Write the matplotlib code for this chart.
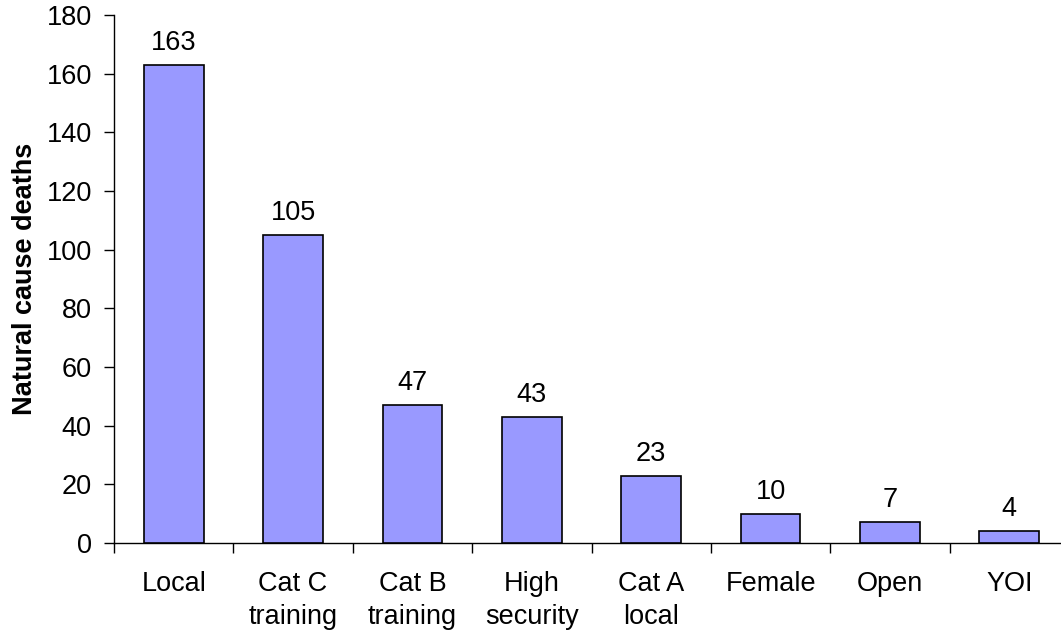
import matplotlib
matplotlib.use("Agg")
import matplotlib.pyplot as plt
import numpy as np

categories = ["Local", "Cat C\ntraining", "Cat B\ntraining", "High\nsecurity",
              "Cat A\nlocal", "Female", "Open", "YOI"]
deaths = [163, 105, 47, 43, 23, 10, 7, 4]
yticks = [0, 20, 40, 60, 80, 100, 120, 140, 160, 180]

plt.rcParams["font.family"] = ["Liberation Sans", "DejaVu Sans"]
FS = 19.5

fig = plt.figure(figsize=(10.61, 6.33), dpi=100)
ax = fig.add_axes([114 / 1061, (633 - 543) / 633, 955 / 1061, (543 - 15) / 633])

x = np.arange(len(categories))
ax.bar(x, deaths, width=0.5, color="#9999FF", edgecolor="black", linewidth=1.2, zorder=3)

for xi, v in zip(x, deaths):
    ax.annotate(str(v), (xi, v), xytext=(0, 6.5), textcoords="offset points",
                ha="center", va="bottom", fontsize=FS)

ax.set_xlim(-0.5, len(categories) - 0.5)
ax.set_ylim(0, 180)
ax.set_yticks(yticks)
ax.set_yticklabels([str(t) for t in yticks], fontsize=FS)
ax.set_xticks(x)
ax.set_xticklabels(categories, fontsize=FS, linespacing=1.38)
ax.set_xticks(np.arange(len(categories)) - 0.5, minor=True)
ax.tick_params(axis="x", which="major", length=0, pad=20)
ax.tick_params(axis="x", which="minor", length=7, width=1, direction="out")
ax.tick_params(axis="y", length=7, width=1, direction="out", pad=9)

for s in ["top", "right"]:
    ax.spines[s].set_visible(False)
ax.spines["left"].set_linewidth(1)
ax.spines["bottom"].set_linewidth(1)

ax.set_ylabel("Natural cause deaths", fontsize=19.5, fontweight="bold", labelpad=6)

fig.savefig("out.png", dpi=100)
